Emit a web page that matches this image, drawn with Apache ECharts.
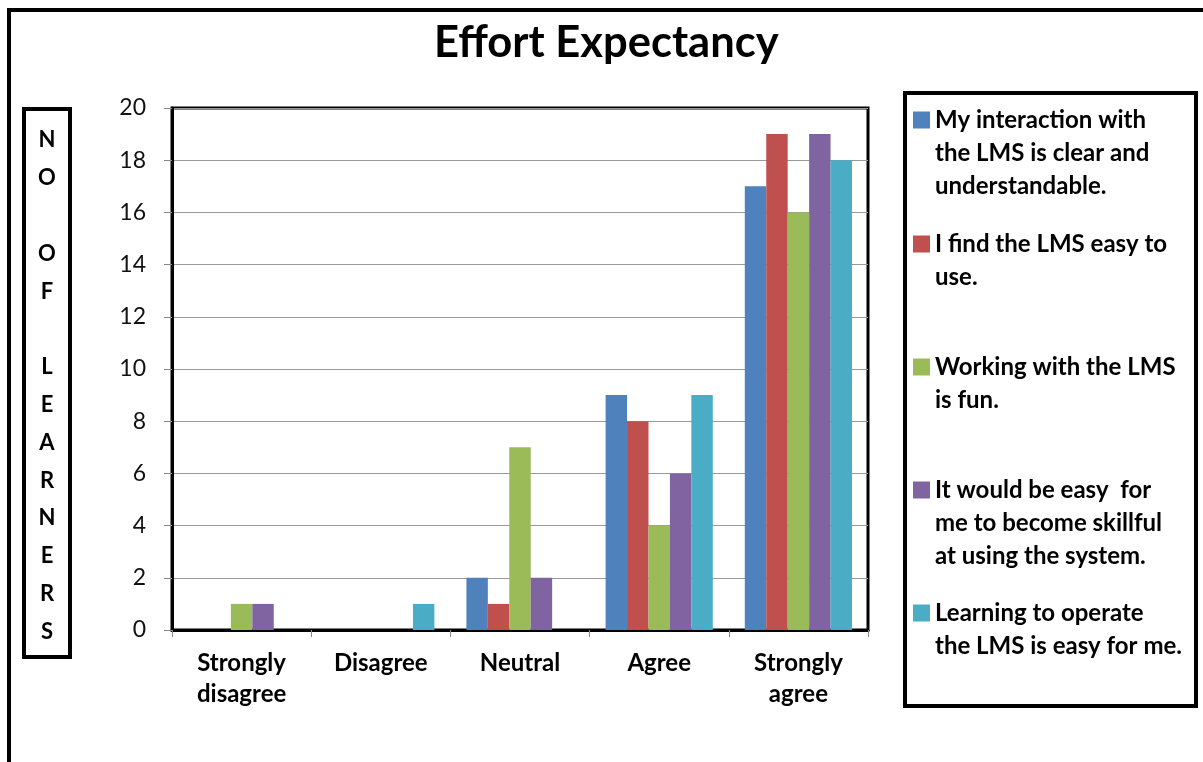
<!DOCTYPE html>
<html>
<head>
<meta charset="utf-8">
<script src="https://cdn.jsdelivr.net/npm/echarts@6/dist/echarts.min.js"></script>
<style>
html,body{margin:0;padding:0;background:#fff;}
#chart{width:1203px;height:762px;}
</style>
</head>
<body>
<div id="chart"></div>
<script>
const categories = ['Strongly disagree', 'Disagree', 'Neutral', 'Agree', 'Strongly agree'];
const seriesNames = [
  'My interaction with the LMS is clear and understandable.',
  'I find the LMS easy to use.',
  'Working with the LMS is fun.',
  'It would be easy  for me to become skillful at using the system.',
  'Learning to operate the LMS is easy for me.'
];
const legendLines = [
  ['My interaction with', 'the LMS is clear and', 'understandable.'],
  ['I find the LMS easy to', 'use.'],
  ['Working with the LMS', 'is fun.'],
  ['It would be easy  for', 'me to become skillful', 'at using the system.'],
  ['Learning to operate', 'the LMS is easy for me.']
];
const clearValues = [0, 0, 2, 9, 17];
const easyValues = [0, 0, 1, 8, 19];
const funValues = [1, 0, 7, 4, 16];
const skillfulValues = [1, 0, 2, 6, 19];
const operateValues = [0, 1, 0, 9, 18];
const yTicks = [0, 2, 4, 6, 8, 10, 12, 14, 16, 18, 20];
const colors = ['#4F81BD', '#C0504D', '#9BBB59', '#8064A2', '#4BACC6'];

const FONT = 'Lato, "Open Sans", sans-serif';
const seriesValues = [clearValues, easyValues, funValues, skillfulValues, operateValues];
const legendIconY = [120, 244, 367, 490, 613];
const LH = 33;

const legends = seriesNames.map((name, i) => {
  const lines = legendLines[i];
  const pad = lines.length - 1;
  const textLines = new Array(pad).fill('').concat(lines);
  const total = textLines.length;
  return {
    data: [name],
    orient: 'vertical',
    left: 913,
    top: legendIconY[i] - total * LH / 2,
    padding: 0,
    itemWidth: 17,
    itemHeight: 17,
    icon: 'rect',
    selectedMode: false,
    formatter: () => textLines.join('\n'),
    textStyle: {fontFamily: FONT, fontWeight: 'bold', fontSize: 24, lineHeight: LH, color: '#000'}
  };
});

const chart = echarts.init(document.getElementById('chart'));
chart.setOption({
  animation: false,
  backgroundColor: '#fff',
  color: colors,
  title: {
    text: 'Effort Expectancy',
    left: 434,
    top: 18,
    padding: 0,
    textStyle: {fontFamily: FONT, fontWeight: 'bold', fontSize: 43.5, lineHeight: 50, color: '#000'}
  },
  legend: legends,
  grid: {
    left: 172, right: 335, top: 108, bottom: 132,
    show: true, borderColor: '#000', borderWidth: 3, backgroundColor: 'transparent'
  },
  xAxis: {
    type: 'category',
    data: categories,
    axisLine: {show: true, lineStyle: {color: '#000', width: 3}},
    axisTick: {show: true, length: 7, lineStyle: {color: '#888', width: 1}},
    axisLabel: {
      fontFamily: FONT, fontWeight: 'bold', fontSize: 24, lineHeight: 31, color: '#000', margin: 18,
      interval: 0,
      formatter: v => v.replace('Strongly ', 'Strongly\n')
    }
  },
  yAxis: {
    type: 'value',
    min: yTicks[0],
    max: yTicks[yTicks.length - 1],
    interval: 2,
    axisLine: {show: true, lineStyle: {color: '#000', width: 3}},
    axisTick: {show: true, length: 8, lineStyle: {color: '#888', width: 1}},
    splitLine: {show: true, lineStyle: {color: '#999', width: 1}},
    axisLabel: {fontFamily: FONT, fontSize: 23, color: '#111', margin: 26}
  },
  series: seriesNames.map((name, i) => ({
    name: name,
    type: 'bar',
    data: seriesValues[i],
    barGap: '0%',
    barCategoryGap: '23%',
    itemStyle: {color: colors[i]}
  })),
  graphic: [
    {type: 'rect', shape: {x: 9, y: 10, width: 1400, height: 1000}, style: {fill: 'none', stroke: '#000', lineWidth: 4}, z: 100},
    {type: 'rect', shape: {x: 905, y: 93, width: 291, height: 613}, style: {fill: 'none', stroke: '#000', lineWidth: 4}, z: 100},
    {type: 'rect', shape: {x: 24, y: 109, width: 46, height: 548}, style: {fill: 'none', stroke: '#000', lineWidth: 4}, z: 100},
    {type: 'text', x: 47, y: 386, z: 100,
      style: {text: 'N\nO\n\nO\nF\n\nL\nE\nA\nR\nN\nE\nR\nS', fontFamily: FONT, fontWeight: 'bold', fontSize: 22,
        lineHeight: 37.8, align: 'center', verticalAlign: 'middle', fill: '#000'}}
  ]
});
</script>
</body>
</html>
